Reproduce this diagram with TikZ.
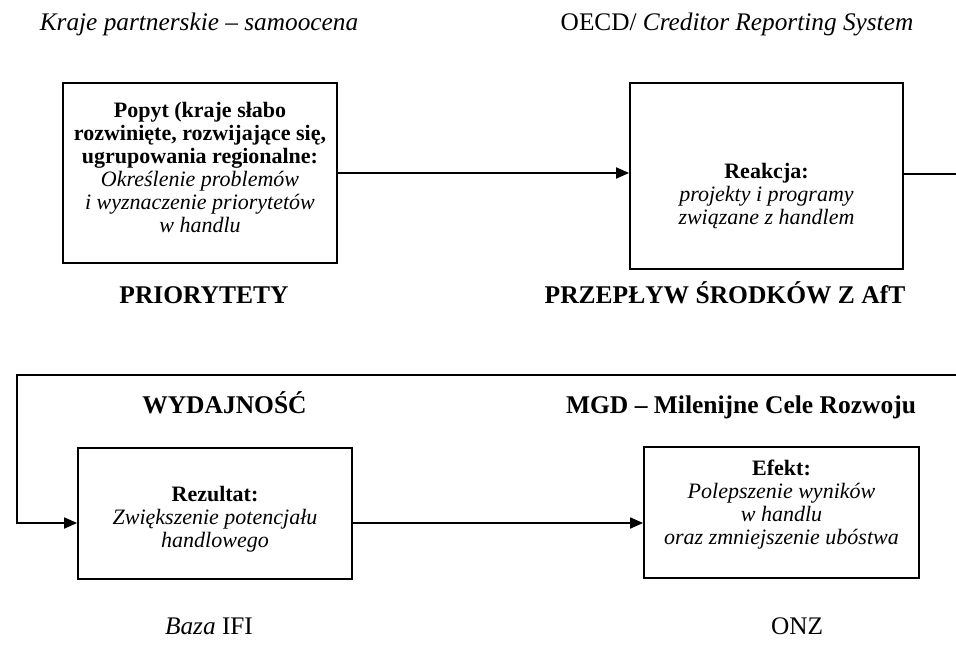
\documentclass[tikz,border=0pt]{standalone}
\usepackage{fontspec}
\setmainfont{Liberation Serif}
\usetikzlibrary{arrows.meta}
\begin{document}
\begin{tikzpicture}[x=1pt,y=-1pt,
  box/.style={draw,line width=1.8pt,inner sep=0pt},
  boxtext/.style={align=center,font=\fontsize{22}{23}\selectfont,inner sep=0pt},
  head/.style={font=\fontsize{25.5}{28}\selectfont\bfseries,anchor=base,inner sep=0pt},
  src/.style={font=\fontsize{25.3}{28}\selectfont,anchor=base,inner sep=0pt},
  ln/.style={line width=1.8pt},
  arr/.style={line width=1.8pt,-{Triangle[length=13pt,width=11pt]}}]
\useasboundingbox (0,0) rectangle (956,653);

% boxes
\node[box,minimum width=274pt,minimum height=180pt] (b1) at (200,173) {};
\node[box,minimum width=273pt,minimum height=186pt] (b2) at (766.5,176) {};
\node[box,minimum width=274pt,minimum height=131pt] (b3) at (215,513.5) {};
\node[box,minimum width=275pt,minimum height=131pt] (b4) at (781.5,512.5) {};

% box texts
\node[boxtext] (t1) at (200,167) {\textbf{Popyt (kraje słabo}\\\textbf{rozwinięte, rozwijające się,}\\\textbf{ugrupowania regionalne:}\\\textit{Określenie problemów}\\\textit{i wyznaczenie priorytetów}\\\textit{w handlu}};
\node[boxtext] (t2) at (766.5,196) {\textbf{Reakcja:}\\\textit{projekty i programy}\\\textit{związane z handlem}};
\node[boxtext] (t3) at (215,519) {\textbf{Rezultat:}\\\textit{Zwiększenie potencjału}\\\textit{handlowego}};
\node[boxtext] (t4) at (781.5,505) {\textbf{Efekt:}\\\textit{Polepszenie wyników}\\\textit{w handlu}\\\textit{oraz zmniejszenie ubóstwa}};

% labels
\node[src] (s1) at (199,30) {\textit{Kraje partnerskie – samoocena}};
\node[src] (s2) at (737,30) {OECD/ \textit{Creditor Reporting System}};
\node[head] (h1) at (204,303) {PRIORYTETY};
\node[head] (h2) at (725,303) {PRZEPŁYW ŚRODKÓW Z AfT};
\node[head] (h3) at (224.5,413) {WYDAJNOŚĆ};
\node[head] (h4) at (741,413) {MGD – Milenijne Cele Rozwoju};
\node[src] (s3) at (209,634) {\textit{Baza} IFI};
\node[src] (s4) at (797,634) {ONZ};

% connectors
\coordinate (r1) at (956,174);
\coordinate (r2) at (956,375);
\coordinate (lt) at (17,375);
\coordinate (lb) at (17,523);
\draw[arr] (b1.east) -- (b1.east -| b2.west);
\draw[ln] (b2.east |- r1) -- (r1);
\draw[arr] (r2) -- (lt) -- (lb) -- (lb -| b3.west);
\draw[arr] (b3.east |- lb) -- (b4.west |- lb);
\end{tikzpicture}
\end{document}
